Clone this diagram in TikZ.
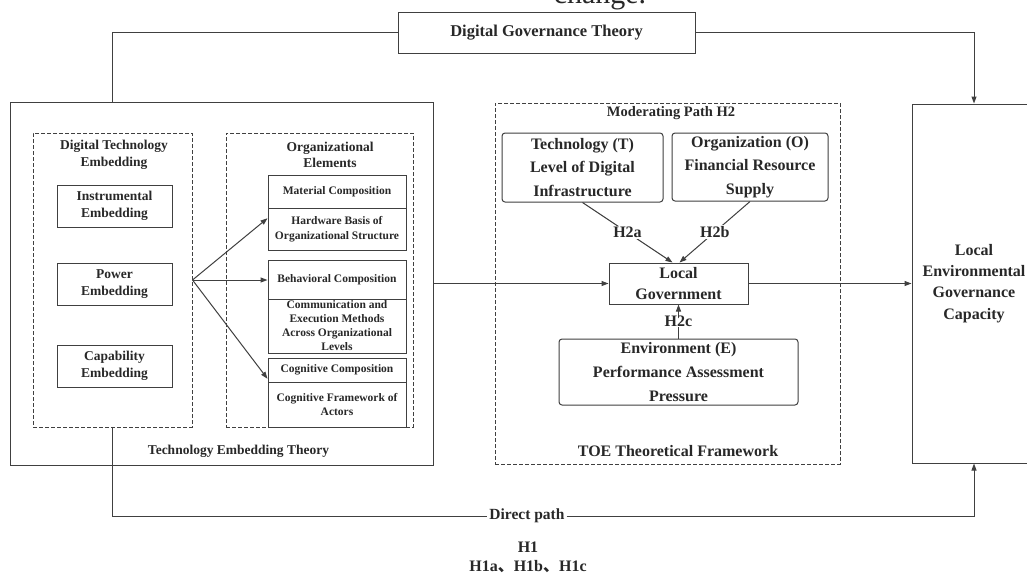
\documentclass[tikz,border=0pt]{standalone}
\usepackage{fontspec}
\setmainfont{Liberation Serif}
\newfontfamily\cjkfont{Noto Sans CJK SC}
\usetikzlibrary{arrows.meta,calc}
\definecolor{ink}{RGB}{64,64,64}
\definecolor{txt}{RGB}{40,40,40}
\newcommand{\fs}[2]{\fontsize{#1}{#2}\selectfont}

\begin{document}
\begin{tikzpicture}[x=1pt,y=-1pt,
  line width=1pt,
  every node/.style={text=txt, font=\bfseries},
  frame/.style={draw=ink, inner sep=0pt, align=center},
  dframe/.style={draw=ink, dash pattern=on 4pt off 2pt, inner sep=0pt},
  rframe/.style={frame, rounded corners=3pt},
  link/.style={draw=ink},
  arr/.style={draw=ink, -{Triangle[length=7pt,width=5pt]}},
  tag/.style={fill=white, inner sep=1.5pt, font=\bfseries\fs{16}{18}},
  big/.style={font=\bfseries\fs{16}{21}},
  mid/.style={font=\bfseries\fs{13.5}{17}, align=center},
  small/.style={font=\bfseries\fs{11.5}{14.5}},
]
\useasboundingbox (0,0) rectangle (1027,581);
\clip (0,0) rectangle (1027,581);
\fill[white] (0,0) rectangle (1027,581);

% caption fragment at the top edge
\node[font=\fs{30}{36}, anchor=base, inner sep=0pt] (chg) at (600,3) {change.};

% top theory box
\node[frame, minimum width=297, minimum height=41, font=\bfseries\fs{16.5}{20}] (dgt) at (546.5,32.5) {Digital Governance Theory};

% technology embedding theory block
\node[frame, minimum width=423, minimum height=363] (tet) at (221.5,283.5) {};
\node[font=\bfseries\fs{13.5}{16}] (tetlbl) at (238.5,451) {Technology Embedding Theory};

\node[dframe, minimum width=159, minimum height=294] (dte) at (112.5,280) {};
\node[mid, font=\bfseries\fs{13.5}{16.5}] (dtet) at (114,155) {Digital Technology\\Embedding};
\node[frame, mid, minimum width=115, minimum height=42] (ie) at (114.5,206) {Instrumental\\Embedding};
\node[frame, mid, minimum width=115, minimum height=42] (pe) at (114.5,284) {Power\\Embedding};
\node[frame, mid, minimum width=115, minimum height=42] (ce0) at (114.5,366) {Capability\\Embedding};

\node[dframe, minimum width=187, minimum height=294] (oes) at (319.5,280) {};
\node[mid, font=\bfseries\fs{13.5}{16.5}] (oest) at (330,155) {Organizational\\Elements};
\node[frame, small, minimum width=138, minimum height=33] (mc) at (337,191.5) {Material Composition};
\node[frame, small, minimum width=138, minimum height=42] (hw) at (337,229) {Hardware Basis of\\Organizational Structure};
\node[frame, small, minimum width=138, minimum height=39] (bc) at (337,279.5) {Behavioral Composition};
\node[frame, small, font=\bfseries\fs{11.5}{14}, minimum width=138, minimum height=54] (ce) at (337,326) {Communication and\\Execution Methods\\Across Organizational\\Levels};
\node[frame, small, minimum width=138, minimum height=24] (cc) at (337,370) {Cognitive Composition};
\node[frame, small, minimum width=138, minimum height=45] (cf) at (337,404.5) {Cognitive Framework of\\Actors};

% TOE framework block
\node[dframe, minimum width=345, minimum height=361] (toe) at (667.5,283.5) {};
\node[font=\bfseries\fs{14.5}{17}] (mp) at (671,113) {Moderating Path H2};
\node[rframe, font=\bfseries\fs{16}{23.5}, minimum width=161, minimum height=69] (tbox) at (582.5,167.5) {Technology (T)\\Level of Digital\\Infrastructure};
\node[rframe, font=\bfseries\fs{16}{23.5}, minimum width=156, minimum height=68] (obox) at (750,167) {Organization (O)\\Financial Resource\\Supply};
\node[frame, big, minimum width=139, minimum height=41] (lg) at (678.5,283.5) {Local\\Government};
\node[rframe, font=\bfseries\fs{16}{24}, minimum width=239, minimum height=66] (ebox) at (678.5,372) {Environment (E)\\Performance Assessment\\Pressure};
\node[font=\bfseries\fs{16}{18}] (toelbl) at (678,451) {TOE Theoretical Framework};

% outcome
\node[frame, font=\bfseries\fs{16}{21.3}, minimum width=124, minimum height=359] (legc) at (974,283.5) {Local\\Environmental\\Governance\\Capacity};

% direct path labels
\node[fill=white, inner sep=1.5pt, font=\bfseries\fs{15.5}{18}] (dp) at (527,516) {Direct path};
\node[align=center, font=\bfseries\fs{16}{19.5}] (h1) at (528,557.5) {H1\\H1a{\cjkfont 、}H1b{\cjkfont 、}H1c};

% connectors
\draw[link] (dgt.west) -| (dte.north |- tet.north);
\draw[arr] (dgt.east) -| (legc.north);
\draw[arr] (dte.east) -- ($(hw.north west)!0.25!(hw.south west)$);
\draw[arr] (dte.east) -- (dte.east -| bc.west);
\draw[arr] (dte.east) -- ($(cc.north west)!0.85!(cc.south west)$);
\draw[arr] (tet.east) -- (lg.west);
\draw[arr] (lg.east) -- (legc.west);
\draw[arr] (tbox.south) -- node[tag]{H2a} ([xshift=-6pt]lg.north);
\draw[arr] (obox.south) -- node[tag]{H2b} ([xshift=1pt]lg.north);
\draw[arr] (ebox.north) -- node[tag, inner sep=0.5pt]{H2c} (lg.south);
\draw[link] (dte.south) |- (dp.west);
\draw[arr] (dp.east) -| (legc.south);
\end{tikzpicture}
\end{document}
